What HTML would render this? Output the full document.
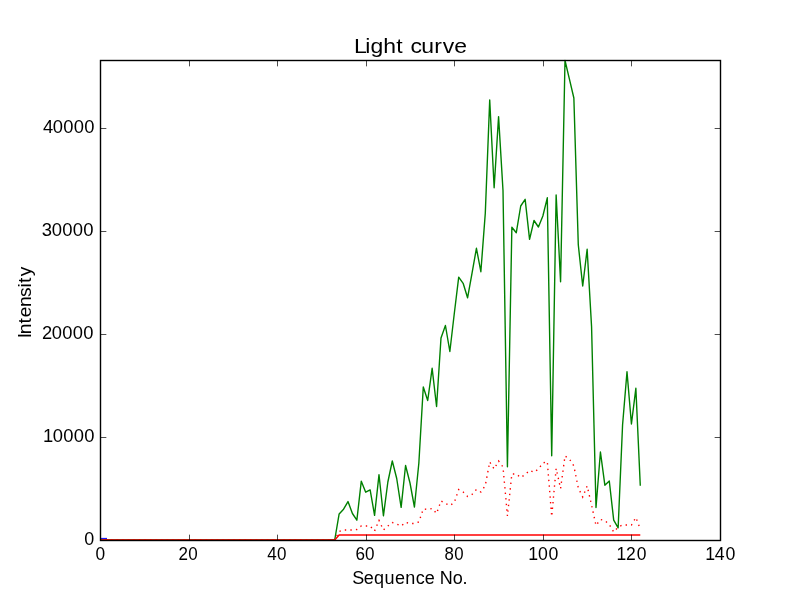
<!DOCTYPE html>
<html><head><meta charset="utf-8"><style>
html,body{margin:0;padding:0;background:#fff;width:800px;height:600px;overflow:hidden}
svg{display:block;will-change:transform}
text{font-family:"Liberation Sans",sans-serif;fill:#000}
</style></head><body>
<svg width="800" height="600" viewBox="0 0 800 600">
<rect x="0" y="0" width="800" height="600" fill="#fff"/>
<polyline points="100.00,540.00 334.71,540.00 339.14,513.90 343.57,509.20 348.00,501.60 352.43,513.50 356.86,520.20 361.29,481.20 365.71,492.20 370.14,489.90 374.57,515.30 379.00,474.70 383.43,515.80 387.86,482.00 392.29,461.00 396.71,478.50 401.14,507.40 405.57,465.50 410.00,483.00 414.43,507.00 418.86,463.00 423.29,387.00 427.71,400.50 432.14,368.30 436.57,406.50 441.00,338.00 445.43,325.50 449.86,351.50 454.29,313.50 458.71,277.20 463.14,283.30 467.57,297.80 472.00,273.30 476.43,248.30 480.86,271.70 485.29,213.30 489.71,100.00 494.14,187.80 498.57,116.60 503.00,190.50 507.43,466.70 511.86,227.30 516.29,232.70 520.71,206.00 525.14,199.30 529.57,239.30 534.00,220.50 538.43,227.00 542.86,216.00 547.29,197.80 551.71,455.80 556.14,195.00 560.57,281.80 565.00,60.50 569.43,79.20 573.86,98.00 578.29,244.80 582.71,286.00 587.14,249.30 591.57,326.70 596.00,507.50 600.43,452.00 604.86,485.20 609.29,481.00 613.71,520.20 618.14,527.80 622.57,425.00 627.00,371.70 631.43,424.00 635.86,388.30 640.29,485.80" fill="none" stroke="#008000" stroke-width="1.39" stroke-linejoin="round"/>
<polyline points="100.00,540.00 334.71,540.00 339.14,535.00 640.29,535.00" fill="none" stroke="#ff0000" stroke-width="1.39"/>
<polyline points="100.00,540.00 334.71,540.00 339.14,531.50 343.57,530.00 348.00,530.00 352.43,530.00 356.86,529.50 361.29,526.00 365.71,526.00 370.14,526.00 374.57,531.00 379.00,520.40 383.43,530.00 387.86,526.00 392.29,522.50 396.71,524.00 401.14,526.00 405.57,522.30 410.00,523.50 414.43,523.50 418.86,522.00 423.29,509.00 427.71,509.30 432.14,508.50 436.57,513.50 441.00,501.00 445.43,503.50 449.86,505.50 454.29,502.50 458.71,489.50 463.14,492.00 467.57,496.50 472.00,494.50 476.43,489.50 480.86,492.00 485.29,485.50 489.71,462.00 494.14,469.00 498.57,461.00 503.00,467.00 507.43,516.00 511.86,474.00 516.29,474.00 520.71,477.50 525.14,474.50 529.57,470.50 534.00,472.30 538.43,469.00 542.86,463.00 547.29,461.50 551.71,516.50 556.14,468.50 560.57,488.50 565.00,456.00 569.43,459.00 573.86,466.00 578.29,488.00 582.71,497.00 587.14,486.00 591.57,505.00 596.00,525.50 600.43,519.50 604.86,520.50 609.29,524.50 613.71,532.00 618.14,527.00 622.57,525.00 627.00,525.00 631.43,525.00 635.86,517.50 640.29,529.00" fill="none" stroke="#ff0000" stroke-width="1.39" stroke-dasharray="1.39 4.17"/>
<rect x="101" y="537.9" width="6" height="1" fill="#0000ff"/>
<g stroke="#000" stroke-width="0.7"><line x1="100.5" y1="540.50" x2="106.35" y2="540.50"/><line x1="714.65" y1="540.50" x2="720.5" y2="540.50"/><line x1="100.5" y1="437.50" x2="106.35" y2="437.50"/><line x1="714.65" y1="437.50" x2="720.5" y2="437.50"/><line x1="100.5" y1="334.50" x2="106.35" y2="334.50"/><line x1="714.65" y1="334.50" x2="720.5" y2="334.50"/><line x1="100.5" y1="231.50" x2="106.35" y2="231.50"/><line x1="714.65" y1="231.50" x2="720.5" y2="231.50"/><line x1="100.5" y1="128.50" x2="106.35" y2="128.50"/><line x1="714.65" y1="128.50" x2="720.5" y2="128.50"/><line x1="100.50" y1="540.5" x2="100.50" y2="534.65"/><line x1="100.50" y1="60.5" x2="100.50" y2="66.35"/><line x1="189.50" y1="540.5" x2="189.50" y2="534.65"/><line x1="189.50" y1="60.5" x2="189.50" y2="66.35"/><line x1="277.50" y1="540.5" x2="277.50" y2="534.65"/><line x1="277.50" y1="60.5" x2="277.50" y2="66.35"/><line x1="366.50" y1="540.5" x2="366.50" y2="534.65"/><line x1="366.50" y1="60.5" x2="366.50" y2="66.35"/><line x1="454.50" y1="540.5" x2="454.50" y2="534.65"/><line x1="454.50" y1="60.5" x2="454.50" y2="66.35"/><line x1="543.50" y1="540.5" x2="543.50" y2="534.65"/><line x1="543.50" y1="60.5" x2="543.50" y2="66.35"/><line x1="631.50" y1="540.5" x2="631.50" y2="534.65"/><line x1="631.50" y1="60.5" x2="631.50" y2="66.35"/><line x1="720.50" y1="540.5" x2="720.50" y2="534.65"/><line x1="720.50" y1="60.5" x2="720.50" y2="66.35"/></g>
<rect x="100.5" y="60.5" width="620" height="480" fill="none" stroke="#000" stroke-width="1.4"/>
<text transform="matrix(1.0750 0 0 1.0870 94.030 544.730)" font-size="16.7" x="-9.00" y="0">0</text>
<text transform="matrix(1.1012 0 0 1.0748 94.132 441.783)" font-size="16.7" x="-46.43 -37.64 -27.94 -18.49 -9.04" y="0">10000</text>
<text transform="matrix(1.0992 0 0 1.0510 93.234 338.784)" font-size="16.7" x="-46.59 -37.67 -28.20 -18.73 -9.01" y="0">20000</text>
<text transform="matrix(1.1078 0 0 1.0922 93.177 235.751)" font-size="16.7" x="-46.36 -37.49 -27.85 -18.45 -9.06" y="0">30000</text>
<text transform="matrix(1.1013 0 0 1.0946 93.881 132.726)" font-size="16.7" x="-46.22 -37.27 -27.83 -18.38 -8.68" y="0">40000</text>
<text transform="matrix(1.0381 0 0 1.0795 100.116 559.943)" font-size="16.7" x="-4.48" y="0">0</text>
<text transform="matrix(1.0179 0 0 1.0804 187.961 560.000)" font-size="16.7" x="-9.33 0.36" y="0">20</text>
<text transform="matrix(1.0186 0 0 1.0825 276.860 559.935)" font-size="16.7" x="-9.55 0.20" y="0">40</text>
<text transform="matrix(1.0233 0 0 1.0762 364.758 559.959)" font-size="16.7" x="-9.18 0.34" y="0">60</text>
<text transform="matrix(1.0056 0 0 1.0741 453.918 559.959)" font-size="16.7" x="-9.48 0.41" y="0">80</text>
<text transform="matrix(1.0609 0 0 1.0612 543.363 560.000)" font-size="16.7" x="-14.21 -5.03 4.81" y="0">100</text>
<text transform="matrix(1.0470 0 0 1.1083 631.326 560.000)" font-size="16.7" x="-14.05 -5.00 5.12" y="0">120</text>
<text transform="matrix(1.0631 0 0 1.0748 720.048 560.000)" font-size="16.7" x="-13.94 -4.87 5.10" y="0">140</text>
<text transform="matrix(1.0994 0 0 0.9894 410.378 52.779)" font-size="20.9" x="-51.28 -41.00 -36.26 -24.59 -12.88 -5.85 0.02 9.92 21.64 29.48 39.95" y="0">Light curve</text>
<text transform="matrix(1.0369 0 0 1.0250 410.147 583.901)" font-size="17.4" x="-55.94 -44.77 -34.89 -24.68 -14.61 -4.61 5.37 14.19 24.05 28.46 41.05 50.49" y="0">Sequence No.</text>
<text transform="matrix(0 -1.1085 1.0225 0 30.805 302.967)" font-size="17.4" x="-31.82 -28.28 -18.53 -12.86 -3.54 5.39 13.91 18.12 24.07" y="0">Intensity</text>
</svg>
</body></html>
